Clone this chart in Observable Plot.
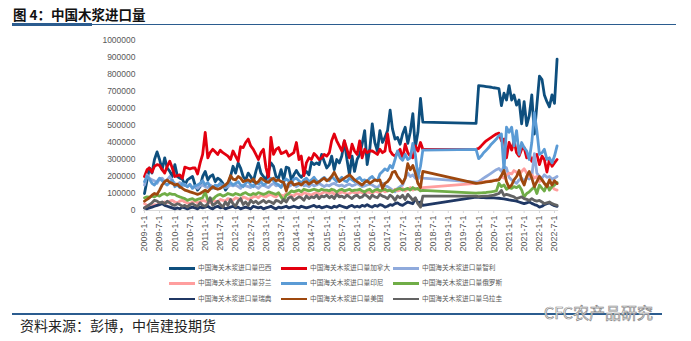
<!DOCTYPE html>
<html><head><meta charset="utf-8">
<script src="https://cdn.jsdelivr.net/npm/d3@7"></script>
<script src="https://cdn.jsdelivr.net/npm/@observablehq/plot@0.6"></script>
<style>
body{margin:0;background:#fff;font-family:"Liberation Sans","Noto Sans CJK SC",sans-serif;}
#wrap{position:relative;width:691px;height:341px;overflow:hidden;background:#fff;}
#chart{position:absolute;left:0;top:0;}
.title{position:absolute;left:13px;top:4px;font-size:13.5px;font-weight:bold;color:#111;font-family:"Noto Sans CJK SC",sans-serif;white-space:nowrap;}
.rule{position:absolute;background:#2B5C8F;}
.src{position:absolute;left:20px;top:315px;font-size:14px;color:#222;font-family:"Noto Sans CJK SC",sans-serif;white-space:nowrap;}
.wm{position:absolute;left:544px;top:300px;font-size:16px;color:#fff;-webkit-text-stroke:0.7px #8a8a8a;font-family:"Noto Sans CJK SC",sans-serif;white-space:nowrap;}
.lg{position:absolute;height:10px;}
.lg .sw{position:absolute;left:0;top:4px;width:26px;height:2.6px;}
.lg .tx{position:absolute;left:29px;top:-1px;font-size:6.7px;line-height:10px;color:#595959;white-space:nowrap;font-family:"Noto Sans CJK SC",sans-serif;}
</style></head><body><div id="wrap">
<div id="chart"></div>
<div class="title">图 4：中国木浆进口量</div>
<div class="rule" style="left:12px;top:23px;width:80px;height:3px;"></div>
<div class="rule" style="left:92px;top:23.6px;width:584px;height:1.6px;"></div>
<div class="rule" style="left:12px;top:312.5px;width:650px;height:2px;"></div>
<div class="src">资料来源：彭博，中信建投期货</div>
<div class="wm">CFC农产品研究</div>
<div id="legend"></div>
</div>
<script>
// Series names, colours (legend order = drawing order)
const seriesNames = ["中国海关木浆进口量巴西","中国海关木浆进口量加拿大","中国海关木浆进口量智利",
  "中国海关木浆进口量芬兰","中国海关木浆进口量印尼","中国海关木浆进口量俄罗斯",
  "中国海关木浆进口量瑞典","中国海关木浆进口量美国","中国海关木浆进口量乌拉圭"];
const seriesColors = ["#0E4F7E","#E3000F","#8FAADC","#FF9E9E","#5B9BD5","#70AD47","#203864","#9E480E","#636363"];

// Period A: monthly 2009-01 .. 2018-03 ; Period B: monthly 2019-12 .. 2022-08 (values in thousand tonnes)
const brazilA = [100,180,250,220,300,345,300,240,310,250,230,200,
 270,200,190,185,150,180,190,200,150,120,140,200,
 230,180,200,210,170,190,180,160,120,140,200,260,
 220,280,250,200,180,220,200,170,230,280,220,200,
 180,230,280,260,200,190,240,180,255,250,180,210,
 235,210,195,215,230,210,285,270,280,270,330,290,
 250,270,320,240,300,280,320,410,300,210,320,230,
 300,330,390,470,270,360,510,400,350,470,400,430,
 470,590,480,420,430,390,450,490,395,460,570,370,
 460,660,520];
const brazilB = [513,735,733,731,729,727,725,722,720,717,
 617,690,650,735,650,680,620,650,510,640,
 500,560,680,450,620,790,770,680,640,610,
 680,630,890];
const canadaA = [200,240,250,225,260,270,265,240,220,260,290,250,
 200,205,210,190,255,250,245,250,250,215,280,330,
 460,310,340,360,345,330,355,340,330,320,300,350,
 320,290,375,370,400,420,380,360,330,300,340,360,
 250,190,430,330,360,370,335,340,350,320,330,340,
 400,300,320,205,280,310,300,335,320,300,310,330,
 320,340,410,450,410,380,350,410,360,310,390,350,
 330,410,310,360,340,350,350,340,330,360,340,350,
 450,350,330,320,340,360,300,390,340,320,310,380,
 350,400,360];
const canadaB = [360,365,380,395,410,420,430,440,450,455,
 410,420,310,400,355,410,340,320,360,370,
 310,330,290,320,330,270,320,300,226,300,
 260,280,300];
const chileA = [150,210,190,180,175,160,185,190,170,180,200,175,
 160,150,165,145,155,140,150,135,140,130,145,150,
 140,135,150,140,130,145,150,140,135,140,150,145,
 150,140,130,150,145,140,135,150,140,130,145,150,
 140,135,150,160,145,150,140,155,150,140,150,155,
 140,150,160,145,150,140,155,145,150,160,150,140,
 150,145,155,160,150,145,150,140,150,155,145,150,
 160,150,140,145,150,155,150,140,135,150,160,145,
 140,130,120,110,130,140,150,190,220,200,210,190,
 185,200,190];
const chileB = [167,170,180,190,200,210,220,230,240,247,
 230,260,250,195,180,170,160,180,190,170,
 195,185,200,335,220,200,190,210,195,200,
 185,190,200];
const finlandA = [40,30,20,25,35,30,45,40,50,45,55,60,
 50,45,55,60,50,45,40,50,55,45,50,60,
 55,50,45,60,55,50,65,60,55,70,65,60,
 75,70,60,80,75,65,70,80,85,75,90,85,
 80,90,95,85,80,95,90,85,100,95,90,85,
 100,95,90,105,100,95,90,100,105,95,100,110,
 105,100,110,95,105,100,110,105,95,100,110,105,
 100,110,105,95,110,105,100,115,110,105,120,110,
 115,120,110,125,115,120,130,115,125,135,120,130,
 125,130,135];
const finlandB = [160,162,165,168,170,172,175,178,180,185,
 200,190,210,220,215,235,225,210,230,245,
 220,200,210,190,200,170,180,160,150,130,
 140,125,120];
const indonesiaA = [170,200,185,160,150,170,190,175,160,150,165,180,
 140,150,135,160,150,140,155,130,145,150,160,175,
 150,165,140,130,150,145,160,150,140,155,165,150,
 160,170,150,140,160,175,150,140,165,155,170,150,
 160,180,190,175,160,150,135,170,185,175,160,185,
 190,175,160,180,190,170,180,195,175,165,185,195,
 180,175,200,185,170,180,195,175,170,190,180,170,
 185,195,175,180,170,190,200,180,175,215,230,245,
 235,265,250,300,350,310,295,330,300,310,395,330,
 196,260,355];
const indonesiaB = [360,305,320,340,355,370,390,405,420,440,
 450,235,490,460,490,380,470,330,400,370,
 350,300,400,575,470,330,340,360,300,310,
 280,320,380];
const russiaA = [75,80,78,85,80,90,85,95,100,90,100,95,
 95,85,80,75,70,60,65,70,60,65,70,75,
 110,60,70,65,80,90,95,85,90,100,95,90,
 100,95,90,100,105,95,90,100,95,105,100,95,
 100,110,105,100,95,105,80,60,90,100,115,110,
 115,120,110,125,120,115,120,125,120,115,125,120,
 120,115,125,120,110,120,125,115,120,125,115,120,
 120,125,115,110,120,125,110,120,125,115,120,125,
 115,120,110,120,125,130,120,125,130,120,135,125,
 130,115,118];
const russiaB = [102,103,104,105,106,108,110,112,115,160,
 140,150,125,135,130,140,135,145,120,80,
 100,110,125,140,100,150,130,115,155,120,
 140,150,165];
const swedenA = [15,10,15,20,25,30,35,40,30,25,20,15,
 10,15,10,20,15,10,15,20,15,10,20,15,
 20,25,15,10,20,25,15,20,10,15,20,25,
 15,20,10,15,20,15,10,25,20,15,20,10,
 15,20,25,15,10,20,15,20,25,15,20,25,
 20,15,25,20,15,20,25,30,20,25,15,20,
 25,20,15,25,20,30,25,20,15,25,30,20,
 25,20,30,25,35,25,20,30,25,35,30,20,
 25,35,30,40,45,35,30,40,50,45,40,70,
 45,50,30];
const swedenB = [78,77,76,76,75,75,74,74,73,72,
 70,68,65,62,60,58,55,50,45,40,
 45,50,42,35,30,20,25,35,40,45,
 35,28,24];
const usaA = [55,65,75,90,100,95,120,150,170,180,165,160,
 150,155,140,130,120,115,110,105,100,95,100,110,
 120,110,125,140,130,125,130,140,150,165,205,185,
 180,200,190,170,175,180,170,185,160,170,190,180,
 170,165,180,190,175,180,170,165,115,160,170,150,
 155,160,150,165,170,155,165,175,160,170,180,190,
 175,185,200,225,195,170,180,190,200,210,195,180,
 170,160,150,165,175,160,170,180,175,180,130,160,
 170,190,225,230,200,180,160,190,275,240,265,220,
 160,135,230];
const usaB = [160,161,163,165,168,170,172,175,178,180,
 206,235,170,135,150,180,200,235,180,150,
 200,230,190,140,170,200,180,160,140,180,
 150,175,158];
const uruguayA = [15,25,35,45,60,55,45,50,40,55,45,35,
 30,40,35,25,30,20,35,40,30,25,45,30,
 25,40,75,30,40,55,35,20,50,30,65,40,
 25,55,70,35,50,30,60,45,55,40,50,60,
 45,55,50,40,60,55,45,65,50,75,80,60,
 70,80,75,60,85,70,80,75,90,70,85,80,
 90,75,85,70,95,80,85,75,90,80,70,85,
 90,75,80,95,85,70,90,80,75,95,85,80,
 70,90,80,60,85,75,90,65,95,80,60,75,
 40,20,84];
const uruguayB = [84,82,83,84,85,86,88,90,95,100,
 118,88,95,90,85,80,70,75,80,70,
 65,60,70,60,55,59,50,40,45,50,
 40,35,30];

const periodA = [brazilA, canadaA, chileA, finlandA, indonesiaA, russiaA, swedenA, usaA, uruguayA];
const periodB = [brazilB, canadaB, chileB, finlandB, indonesiaB, russiaB, swedenB, usaB, uruguayB];

// x tick labels every six months
const tickDates = d3.range(0, 28).map(i => new Date(Date.UTC(2009, i * 6, 1)));
const yTicks = d3.range(0, 1000001, 100000);

const rows = [];
seriesNames.forEach((name, s) => {
  periodA[s].forEach((v, i) => rows.push({series: name, date: new Date(Date.UTC(2009, i, 1)), value: v * 1000}));
  periodB[s].forEach((v, i) => rows.push({series: name, date: new Date(Date.UTC(2019, 11 + i, 1)), value: v * 1000}));
});

const chart = Plot.plot({
  width: 691, height: 341,
  marginTop: 40, marginBottom: 131, marginLeft: 144, marginRight: 137,
  style: {fontFamily: '"Liberation Sans", Arial, sans-serif', background: "transparent", overflow: "visible"},
  x: {type: "utc", domain: [new Date(Date.UTC(2009, 0, 1)), new Date(Date.UTC(2022, 6, 1))]},
  y: {domain: [0, 1000000]},
  color: {domain: seriesNames, range: seriesColors},
  marks: [
    Plot.ruleY([0], {x1: new Date(Date.UTC(2008, 11, 20)), x2: new Date(Date.UTC(2022, 7, 20)), stroke: "#d9d9d9", strokeWidth: 1}),
    Plot.axisY({ticks: yTicks, tickFormat: d3.format("d"), tickSize: 0, tickPadding: 9, fontSize: 8.5, fill: "#595959", label: null}),
    Plot.axisX({ticks: tickDates, tickRotate: -90, tickFormat: d => `${d.getUTCFullYear()}-${d.getUTCMonth() + 1}-1`,
      tickSize: 3, tickPadding: 2, fontSize: 9, stroke: "#d9d9d9", fill: "#595959", label: null}),
    Plot.line(rows, {x: "date", y: "value", z: "series", stroke: "series", strokeWidth: 2.8, strokeLinejoin: "round", strokeLinecap: "round"})
  ]
});
document.getElementById("chart").appendChild(chart);

// legend: 3 x 3 grid
const lgLeft = [169, 281, 393];
const lgTop = [263, 278, 293.5];
const lg = document.getElementById("legend");
seriesNames.forEach((name, i) => {
  const r = Math.floor(i / 3), c = i % 3;
  const d = document.createElement("div");
  d.className = "lg";
  d.style.left = lgLeft[c] + "px";
  d.style.top = lgTop[r] + "px";
  d.innerHTML = `<div class="sw" style="background:${seriesColors[i]}"></div><div class="tx">${name}</div>`;
  lg.appendChild(d);
});
</script>
</body></html>
